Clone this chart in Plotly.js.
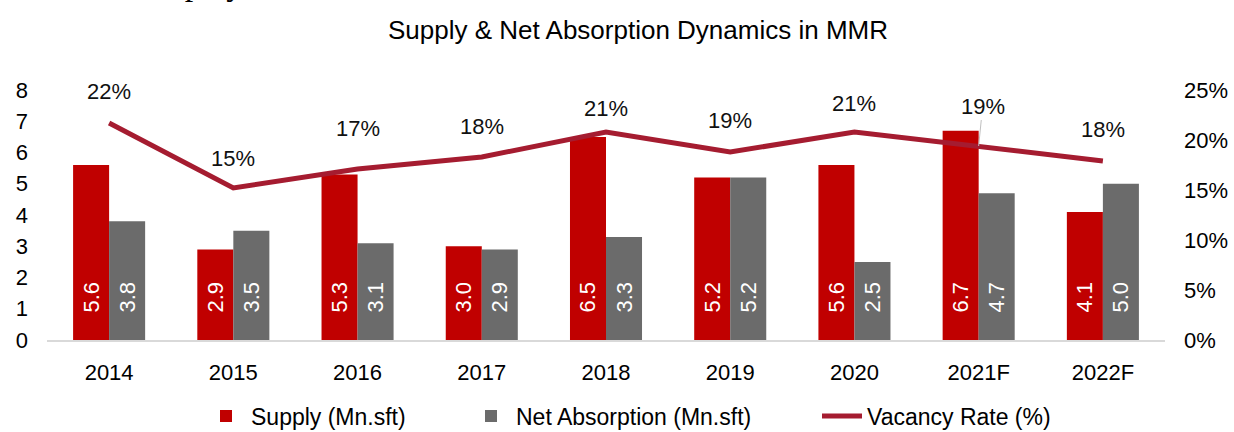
<!DOCTYPE html>
<html>
<head>
<meta charset="utf-8">
<script src="https://cdn.plot.ly/plotly-3.0.1.min.js"></script>
<style>html,body{margin:0;padding:0;background:#fff;}#chart{width:1234px;height:432px;}</style>
</head>
<body>
<div id="chart"></div>
<script>
const years = ["2014","2015","2016","2017","2018","2019","2020","2021F","2022F"];
const supply = [5.6, 2.9, 5.3, 3.0, 6.5, 5.2, 5.6, 6.7, 4.1];
const netAbsorption = [3.8, 3.5, 3.1, 2.9, 3.3, 5.2, 2.5, 4.7, 5.0];
const vacancyRate = [0.217, 0.152, 0.171, 0.183, 0.208, 0.188, 0.208, 0.194, 0.179];

const FONT = "Liberation Sans, Arial, sans-serif";
const pad = "\u00a0\u00a0\u00a0\u00a0";
// label vertical offsets (px) above each vacancy point
const labelShift = [32, 30, 41, 31, 24, 32, 29, 0, 32];

const traces = [
  {
    type: "bar", name: "Supply (Mn.sft)", x: years, y: supply,
    marker: {color: "#C00000"}, legend: "legend",
    texttemplate: pad + "%{y:.1f}", textposition: "inside", insidetextanchor: "start",
    textangle: -90, textfont: {color: "#ffffff", size: 22, family: FONT},
    constraintext: "none", hoverinfo: "skip"
  },
  {
    type: "bar", name: "Net Absorption (Mn.sft)", x: years, y: netAbsorption,
    marker: {color: "#6B6B6B"}, legend: "legend2",
    texttemplate: pad + "%{y:.1f}", textposition: "inside", insidetextanchor: "start",
    textangle: -90, textfont: {color: "#ffffff", size: 22, family: FONT},
    constraintext: "none", hoverinfo: "skip"
  },
  {
    type: "scatter", mode: "lines", name: "Vacancy Rate (%)", x: years, y: vacancyRate,
    yaxis: "y2", line: {color: "#A51C30", width: 5}, legend: "legend3", hoverinfo: "skip"
  }
];

const annotations = years.map((yr, i) => {
  const a = {
    x: i, y: vacancyRate[i], xref: "x", yref: "y2",
    text: Math.round(vacancyRate[i] * 100) + "%",
    font: {size: 22, family: FONT, color: "#111"},
    showarrow: false, yshift: labelShift[i]
  };
  if (i === 7) {
    Object.assign(a, {showarrow: true, arrowhead: 0, arrowwidth: 1, arrowcolor: "#BFBFBF",
      ax: 4, ay: -40, yshift: 0, standoff: 0});
  }
  return a;
});
annotations.push({
  xref: "paper", yref: "paper", x: (143 - 47) / 1118, y: 1.343, xanchor: "left", yanchor: "bottom",
  text: "display", showarrow: false,
  font: {family: "Liberation Serif, Times New Roman, serif", size: 34, color: "#000"}
});

const legendBase = {orientation: "h", xref: "container", yref: "container", xanchor: "left",
  y: (432 - 416) / 432, yanchor: "middle", font: {size: 23, family: FONT, color: "#000"},
  bgcolor: "rgba(0,0,0,0)", itemwidth: 40};

const layout = {
  width: 1234, height: 432,
  margin: {l: 47, r: 69, t: 90, b: 92},
  paper_bgcolor: "#ffffff", plot_bgcolor: "#ffffff",
  font: {family: FONT, size: 22, color: "#000"},
  title: {text: "Supply & Net Absorption Dynamics in MMR", x: 638 / 1234, xanchor: "center",
    xref: "container", y: 1 - 30/432, yanchor: "middle", yref: "container",
    font: {size: 26, family: FONT, color: "#000"}},
  barmode: "group", bargap: 0.42, bargroupgap: 0,
  xaxis: {type: "category", range: [-0.5, 8.5], autorange: false, showgrid: false, showline: true,
    linecolor: "#D9D9D9", linewidth: 1.5,
    ticks: "", tickfont: {size: 22}, ticklabelstandoff: 12, zeroline: false},
  yaxis: {range: [0, 8], autorange: false, dtick: 1, showgrid: false, zeroline: false, showline: false,
    ticks: "", tickfont: {size: 22}, ticklabelstandoff: 18},
  yaxis2: {range: [0, 0.25], autorange: false, dtick: 0.05, tickformat: ".0%", overlaying: "y", side: "right",
    showgrid: false, zeroline: false, showline: false, ticks: "", tickfont: {size: 22},
    ticklabelstandoff: 18},
  legend: Object.assign({}, legendBase, {x: 201 / 1234}),
  legend2: Object.assign({}, legendBase, {x: 466 / 1234}),
  legend3: Object.assign({}, legendBase, {x: 817 / 1234}),
  showlegend: true,
  annotations: annotations
};

Plotly.newPlot("chart", traces, layout, {displayModeBar: false, staticPlot: true});
</script>
</body>
</html>
